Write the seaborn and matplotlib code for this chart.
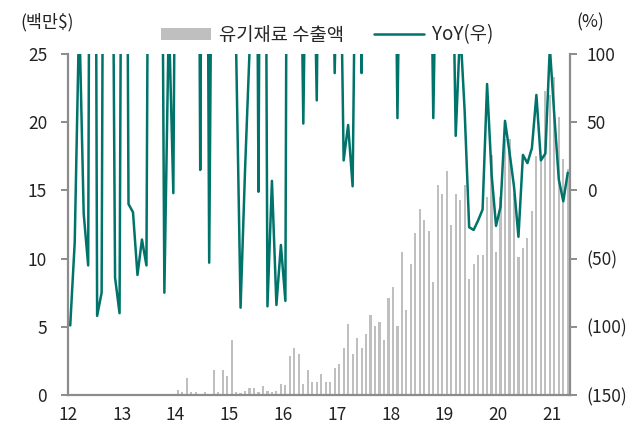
import numpy as np
import pandas as pd
import seaborn as sns
import matplotlib.pyplot as plt

# monthly, 2012.01 - 2021.04
months = pd.period_range('2012-01', '2021-04', freq='M')

# 유기재료 수출액 (백만$)
export = [0.05, 0.02, 0.06, 0.03, 0.04, 0.08, 0.02, 0.03, 0.05, 0.07, 0.03, 0.02,
          0.04, 0.06, 0.03, 0.02, 0.05, 0.04, 0.03, 0.06, 0.04, 0.05, 0.03, 0.04,
          0.38, 0.23, 1.26, 0.23, 0.23, 0.05, 0.23, 0.05, 1.85, 0.23, 1.85, 1.40,
          4.05, 0.23, 0.18, 0.26, 0.53, 0.53, 0.23, 0.67, 0.28, 0.25, 0.30, 0.82,
          0.70, 2.87, 3.46, 3.00, 0.82, 1.85, 0.97, 0.97, 1.55, 0.97, 0.97, 2.00,
          2.29, 3.46, 5.20, 3.00, 4.15, 3.46, 4.49, 5.90, 5.07, 5.33, 4.05, 7.12,
          7.95, 5.07, 10.45, 6.20, 9.57, 11.90, 13.67, 12.80, 12.06, 8.25, 15.43, 14.70,
          16.44, 12.50, 14.70, 14.26, 15.43, 8.52, 9.57, 10.30, 10.30, 14.55, 17.56, 10.45,
          14.50, 18.80, 18.80, 14.70, 10.10, 10.76, 11.50, 13.50, 17.50, 17.40, 22.30, 22.00,
          23.30, 20.40, 17.30, 16.60]

# YoY (%), right axis
yoy = [-99, -38, 130, -17, -55, 900, -92, -75, 800, 450, -64, -90,
       700, -10, -16, -62, -36, -55, 650, 400, 500, -75, 128, -2,
       500, 300, 600, 250, 700, 15, 650, -53, 400, 300, 500, 350,
       250, 106, -86, 15, 102, 600, -1, 700, -85, 7, -84, -40,
       -81, 900, 400, 300, 49, 300, 250, 66, 400, 200, 300, 86,
       250, 22, 48, 3, 300, 86, 350, 200, 300, 250, 180, 300,
       350, 53, 300, 200, 250, 180, 200, 150, 300, 53, 250, 200,
       180, 250, 40, 120, 58, -27, -29, -22, -14, 78, 12, -26,
       -12, 51, 28, 3, -34, 26, 20, 31, 70, 22, 27, 105,
       55, 8, -8, 13]

year_labels = ['12', '13', '14', '15', '16', '17', '18', '19', '20', '21']

df = pd.DataFrame({'month': months.astype(str), 'export': export, 'yoy': yoy})
df['pos'] = np.arange(len(df))

sns.set_style('white')
plt.rcParams['font.family'] = ['Noto Sans CJK KR', 'DejaVu Sans']
plt.rcParams['font.size'] = 10

bar_c = '#BFBFBF'
line_c = '#00736A'
axis_c = '#8C8C8C'

fig = plt.figure(figsize=(6.41, 4.28), dpi=100)
ax = fig.add_axes([68 / 641, 1 - 395 / 428, (570 - 68) / 641, (395 - 54) / 428])

sns.barplot(data=df, x='pos', y='export', ax=ax, color=bar_c, width=0.48,
            saturation=1, label='유기재료 수출액')
for p in ax.patches:
    p.set_antialiased(False)
    p.set_edgecolor('none')

ax2 = ax.twinx()
sns.lineplot(data=df, x='pos', y='yoy', ax=ax2, color=line_c, linewidth=1.8,
             label='YoY(우)', legend=False)

ax.set_xlim(-0.5, len(df) - 0.5)
ax.set_ylim(0, 25)
ax2.set_ylim(-150, 100)

ax.set_xticks([-0.5 + 12 * k for k in range(len(year_labels))])
ax.set_xticklabels(year_labels)
ax.set_yticks([0, 5, 10, 15, 20, 25])
ax2.set_yticks([-150, -100, -50, 0, 50, 100])
ax2.set_yticklabels([f'({-v})' if v < 0 else str(v) for v in [-150, -100, -50, 0, 50, 100]])

ax.set_xlabel('')
ax.set_ylabel('')
ax2.set_xlabel('')
ax2.set_ylabel('')

for a in (ax, ax2):
    a.spines['top'].set_visible(False)
    for s in ('left', 'right', 'bottom'):
        a.spines[s].set_color(axis_c)
        a.spines[s].set_linewidth(1.6)
    a.tick_params(colors=axis_c, labelcolor='#222222', labelsize=12.5,
                  length=5, width=1.4)
ax.tick_params(axis='y', pad=10)
ax2.tick_params(axis='y', pad=7)
ax.tick_params(axis='x', pad=3)
ax.spines['right'].set_visible(False)
ax2.spines['left'].set_visible(False)
ax2.spines['bottom'].set_visible(False)

fig.text(20 / 641, 1 - 22 / 428, '(백만$)', fontsize=12.5, color='#222222', va='center')
fig.text(576 / 641, 1 - 22 / 428, '(%)', fontsize=12.5, color='#222222', va='center')

h1, l1 = ax.get_legend_handles_labels()
h2, l2 = ax2.get_legend_handles_labels()
ax.legend(h1 + h2, l1 + l2, loc='center', bbox_to_anchor=(327 / 641, 1 - 35 / 428),
          bbox_transform=fig.transFigure, ncol=2, frameon=False, fontsize=13.5,
          handlelength=2.7, handleheight=0.6, columnspacing=1.6, handletextpad=0.4)

fig.savefig('out.png', dpi=100)
